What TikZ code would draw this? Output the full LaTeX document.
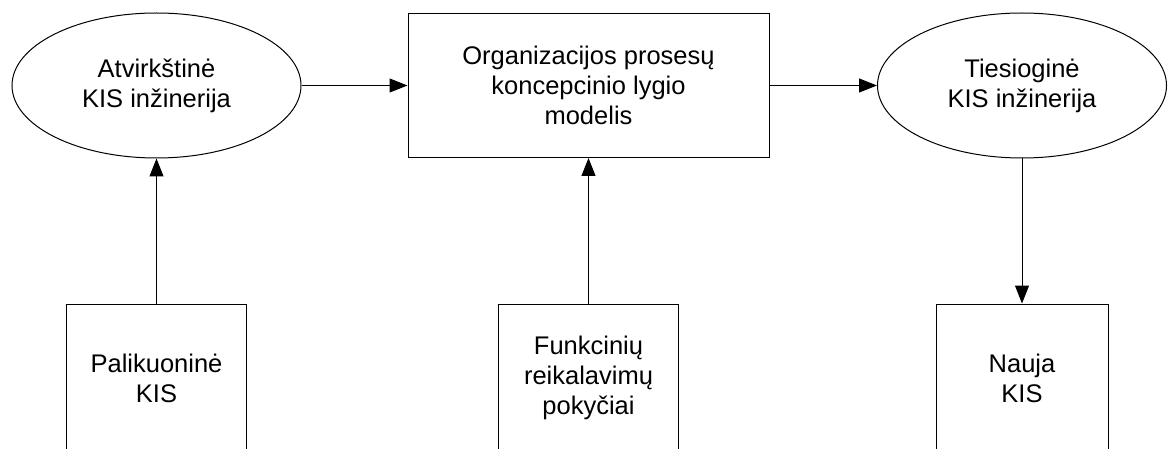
\documentclass[tikz,border=0pt]{standalone}
\usepackage{fontspec}
\setmainfont{Liberation Sans}
\usetikzlibrary{shapes.geometric,arrows.meta}
\tikzset{
  base/.style={draw=black, line width=1pt, align=center, inner sep=0pt,
    font=\fontsize{25.5}{30}\selectfont},
  oval/.style={base, ellipse, minimum width=289pt, minimum height=145pt},
  bigbox/.style={base, rectangle, minimum width=361pt, minimum height=144pt},
  srcbox/.style={base, rectangle, minimum height=148pt},
  arr/.style={draw=black, line width=1pt, -{Triangle[length=18pt,width=14pt]}}
}
\begin{document}
\begin{tikzpicture}[x=1pt,y=-1pt]
  \useasboundingbox (0,0) rectangle (1170,449);
  \clip (0,0) rectangle (1170,449);
  % top row
  \node[oval]   (atv) at (156.5,85.5) {Atvirkštinė\\KIS inžinerija};
  \node[bigbox] (org) at (588.5,85.5) {Organizacijos prosesų\\koncepcinio lygio\\modelis};
  \node[oval]   (ties) at (1022,85.5) {Tiesioginė\\KIS inžinerija};
  % bottom row (boxes run past the lower edge)
  \node[srcbox, minimum width=180pt] (pal) at (156.5,378) {Palikuoninė\\KIS};
  \node[srcbox, minimum width=180pt] (fun) at (588.5,378) {Funkcinių\\reikalavimų\\pokyčiai};
  \node[srcbox, minimum width=172pt] (nau) at (1022,378) {Nauja\\KIS};
  % connectors
  \draw[arr] (atv.east) -- (org.west);
  \draw[arr] (org.east) -- (ties.west);
  \draw[arr] (pal.north) -- (atv.south);
  \draw[arr] (fun.north) -- (org.south);
  \draw[arr] (ties.south) -- (nau.north);
\end{tikzpicture}
\end{document}
